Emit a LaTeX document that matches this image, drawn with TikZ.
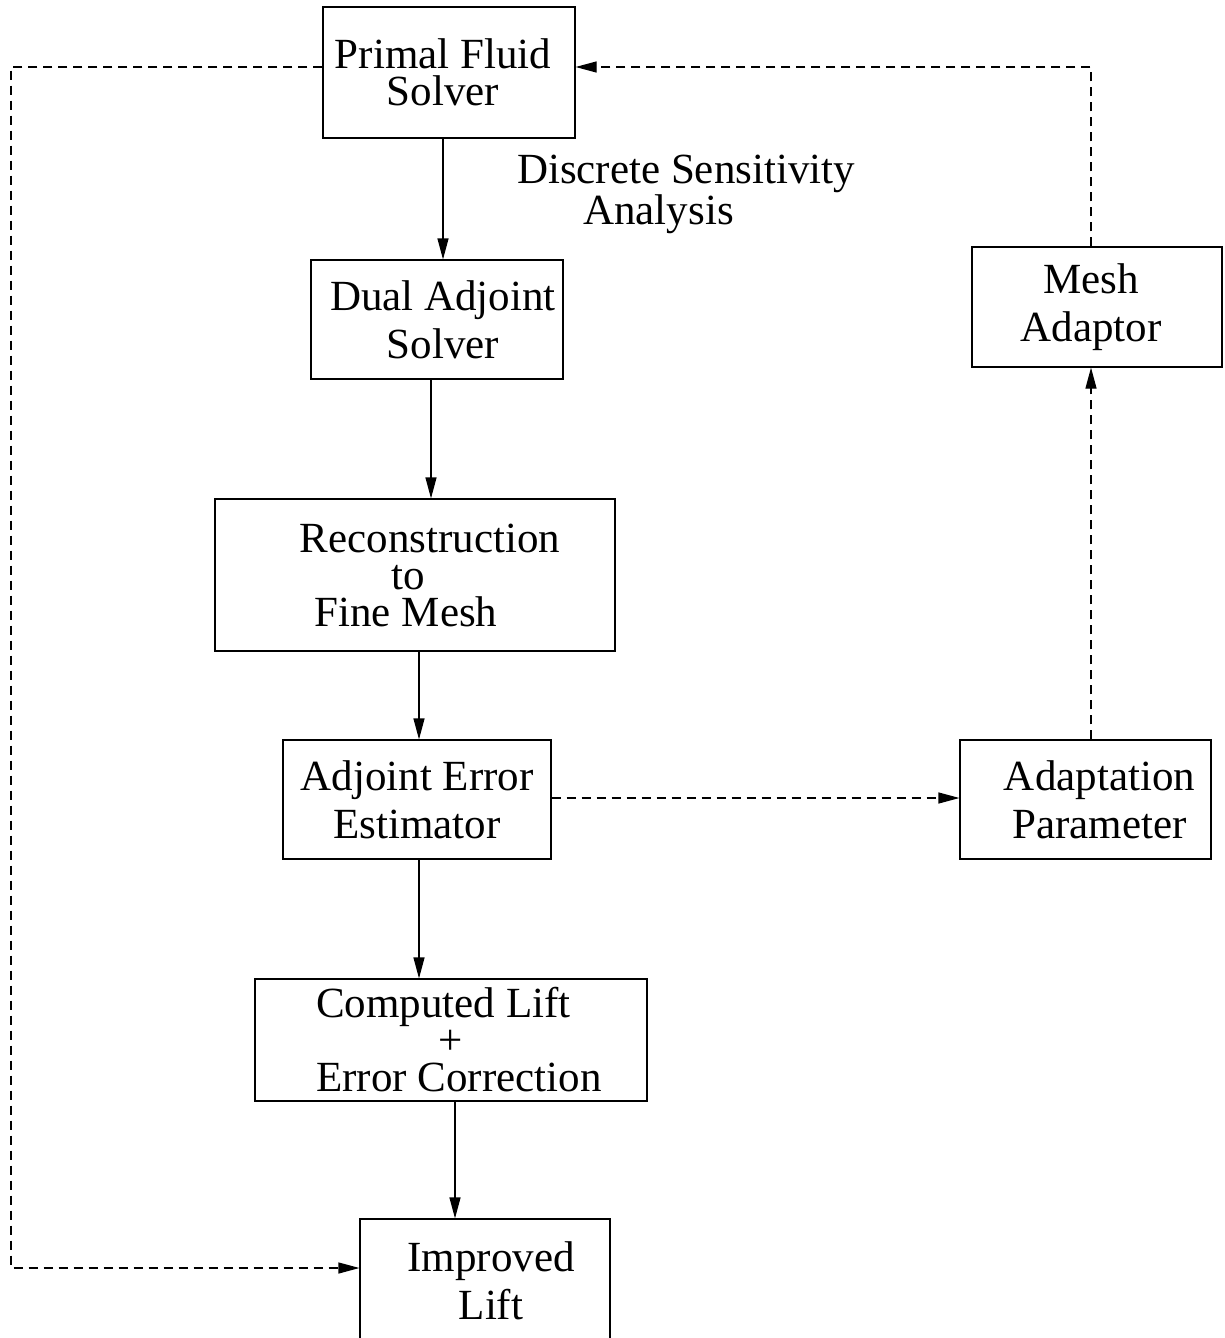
\documentclass[tikz,border=0pt]{standalone}
\usepackage{fontspec}
\setmainfont{Liberation Serif}
\usetikzlibrary{arrows.meta}

\begin{document}
\begin{tikzpicture}[
    x=0.5pt, y=-0.5pt,
    box/.style={draw, line width=0.6pt, inner sep=0pt, align=center,
        font=\fontsize{21.5}{24}\selectfont},
    tight/.style={font=\fontsize{21.5}{18.5}\selectfont},
    arr/.style={line width=0.6pt, -{Triangle[length=10.5pt,width=5.5pt]}},
    dsh/.style={arr, dash pattern=on 4.5pt off 3pt},
  ]
  \useasboundingbox (0,0) rectangle (1225,1338);

  % main column
  \node[box, tight, minimum width=126pt, minimum height=65.5pt] (primal) at (449,72.5)
    {\hspace*{-6pt}Primal Fluid\\\hspace*{-6pt}Solver};
  \node[box, minimum width=126pt, minimum height=59.5pt] (dual) at (437,319.5)
    {\hspace*{6pt}Dual Adjoint\\\hspace*{6pt}Solver};
  \node[box, tight, minimum width=200pt, minimum height=76pt] (recon) at (415,575)
    {Reconstruction\hspace*{-15pt}\\\hspace*{-7pt}to\\\hspace*{-9pt}Fine Mesh};
  \node[box, minimum width=134pt, minimum height=59.5pt] (est) at (417,799.5)
    {Adjoint Error\\Estimator};
  \node[box, tight, minimum width=196pt, minimum height=61pt] (lift) at (451,1040)
    {\hspace*{-7.5pt}Computed Lift\\+\hspace*{-4pt}\\Error Correction\hspace*{-8pt}};
  \node[box, minimum width=125pt, minimum height=62pt] (impr) at (485,1281)
    {\hspace*{6pt}Improved\\\hspace*{6pt}Lift};

  % right column
  \node[box, minimum width=125pt, minimum height=60pt] (mesh) at (1097,307)
    {\hspace*{-6pt}Mesh\\\hspace*{-6pt}Adaptor};
  \node[box, minimum width=125.5pt, minimum height=59.5pt] (adapt) at (1085.5,799.5)
    {\hspace*{14pt}Adaptation\\\hspace*{14pt}Parameter};

  \node[align=center, font=\fontsize{21.5}{17}\selectfont] (sens) at (686,194)
    {Discrete Sensitivity\\\hspace*{-27.5pt}Analysis};

  % solid flow
  \foreach \a/\b/\x in {primal/dual/443, dual/recon/431, recon/est/419,
      est/lift/419, lift/impr/455} {
      \draw[arr] (\a.south -| \x,0) -- (\b.north -| \x,0);
    }

  % dashed feedback
  \draw[dsh] (primal.west |- 0,67) -| (11,1268) -- (impr.west |- 0,1268);
  \draw[dsh] (mesh.north -| 1091,0) |- (primal.east |- 0,67);
  \draw[dsh] (adapt.north -| 1091,0) -- (mesh.south -| 1091,0);
  \draw[dsh] (est.east |- 0,798) -- (adapt.west |- 0,798);
\end{tikzpicture}
\end{document}
